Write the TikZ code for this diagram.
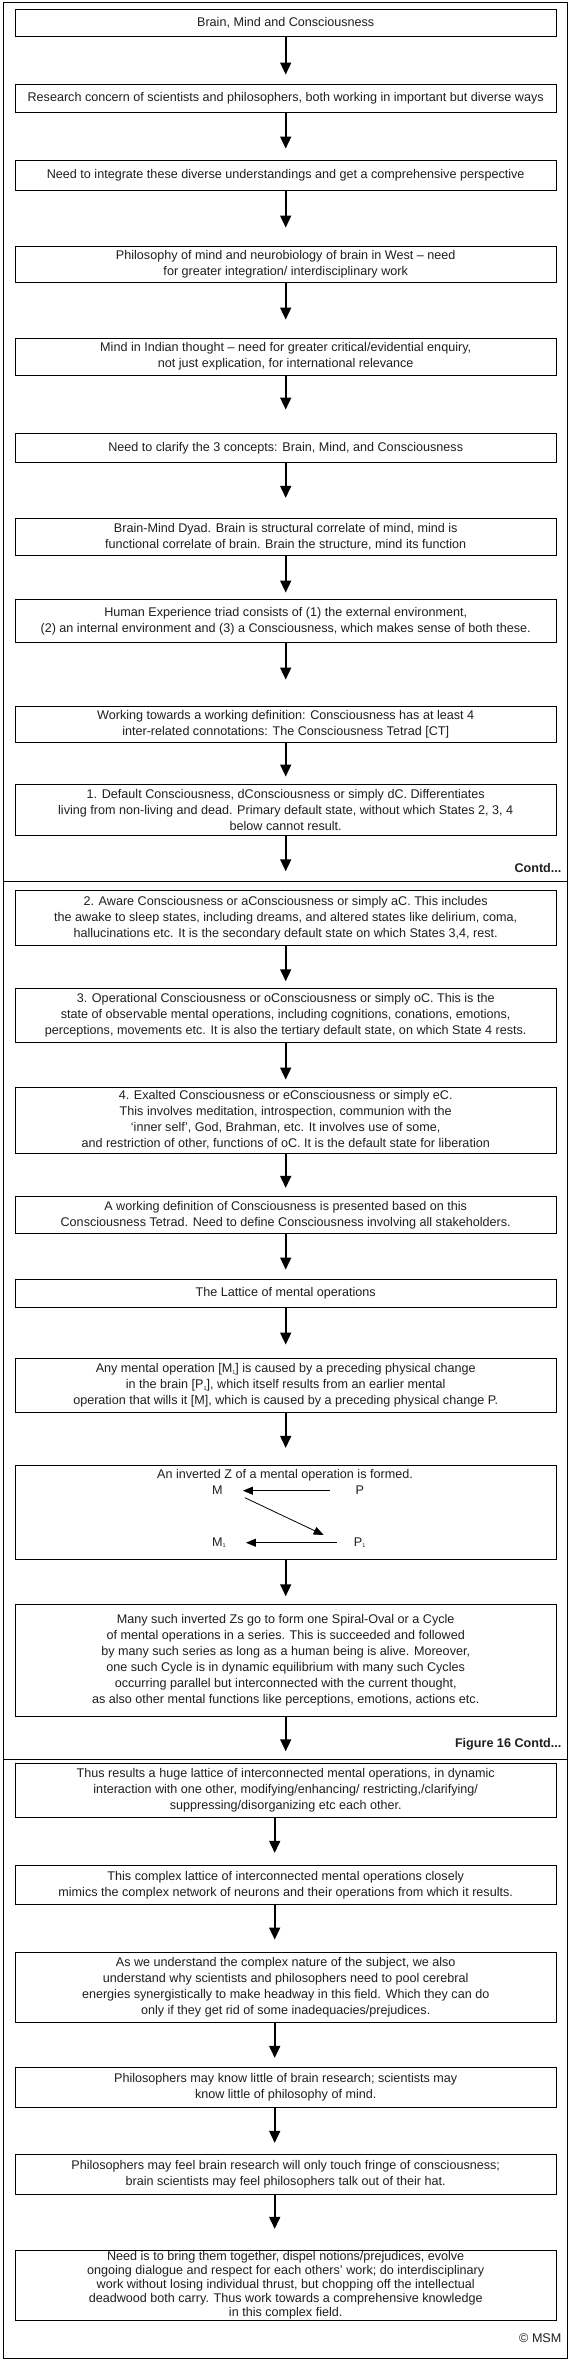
\documentclass[tikz,border=0pt]{standalone}
\usepackage{fontspec}
\setmainfont{Liberation Sans}
\usetikzlibrary{arrows.meta,calc}
\newcommand\lowone{\raisebox{-1.5pt}{\fontsize{5.5}{6}\selectfont 1}}
\newcommand\myflow[3]{\draw[arr,shorten >=#3pt] (#1.south) -- (#2.north);}
\newcommand\myflowb[3]{\draw[arr,shorten >=#3pt] ([xshift=-11pt]#1.south) -- ([xshift=-11pt]#2.north);}
\begin{document}
\begin{tikzpicture}[x=1pt,y=-1pt,
  box/.style={draw=black, line width=0.9pt, minimum width=540.6pt, align=center, inner sep=0pt, font=\fontsize{12.6}{16}\selectfont, text=black!88},
  arr/.style={line width=1.6pt, -{Triangle[width=11pt,length=12pt]}},
  zarr/.style={line width=0.8pt, -{Triangle[width=8pt,length=10pt]}},
  frame/.style={draw=black, line width=1pt},
  note/.style={font=\fontsize{12.6}{14}\selectfont\bfseries, anchor=east, inner sep=0pt, text=black!88},
  zl/.style={font=\fontsize{12.6}{14}\selectfont, anchor=west, inner sep=0pt, text=black!88}
]
\path[use as bounding box] (0,0) rectangle (577,2363);
\fill[white] (0,0) rectangle (577,2363);
% frame
\draw[frame] (3,3) rectangle (567,2358);
\draw[frame] (3,881) -- (567,881);
\draw[frame] (3,1759.3) -- (567,1759.3);

% panel 1
\node[box, minimum height=26.7pt] (b1) at (285.7,22.65) {Brain, Mind and Consciousness};
\node[box, minimum height=28pt] (b2) at (285.7,98.3) {Research concern of scientists and philosophers, both working in important but diverse ways};
\node[box, minimum height=30.7pt] (b3) at (285.7,175.35) {Need to integrate these diverse understandings and get a comprehensive perspective};
\node[box, minimum height=36pt] (b4) at (285.7,264.7) {Philosophy of mind and neurobiology of brain in West -- need\\for greater integration/ interdisciplinary work};
\node[box, minimum height=36.7pt] (b5) at (285.7,356.65) {Mind in Indian thought -- need for greater critical/evidential enquiry,\\not just explication, for international relevance};
\node[box, minimum height=29.4pt] (b6) at (285.7,448) {Need to clarify the 3 concepts: Brain, Mind, and Consciousness};
\node[box, minimum height=36.7pt] (b7) at (285.7,536.65) {Brain-Mind Dyad. Brain is structural correlate of mind, mind is\\functional correlate of brain. Brain the structure, mind its function};
\node[box, minimum height=43.7pt] (b8) at (285.7,620.85) {Human Experience triad consists of (1) the external environment,\\(2) an internal environment and (3) a Consciousness, which makes sense of both these.};
\node[box, minimum height=36pt] (b9) at (285.7,724.7) {Working towards a working definition: Consciousness has at least 4\\inter-related connotations: The Consciousness Tetrad [CT]};
\node[box, minimum height=51pt] (b10) at (285.7,809.5) {1. Default Consciousness, dConsciousness or simply dC. Differentiates\\living from non-living and dead. Primary default state, without which States 2, 3, 4\\below cannot result.};
\node[note] (c1) at (561.6,868) {Contd...};

% panel 2
\node[box, minimum height=55.7pt] (b11) at (285.7,917.85) {2. Aware Consciousness or aConsciousness or simply aC. This includes\\the awake to sleep states, including dreams, and altered states like delirium, coma,\\hallucinations etc. It is the secondary default state on which States 3,4, rest.};
\node[box, minimum height=54.7pt] (b12) at (285.7,1015.35) {3. Operational Consciousness or oConsciousness or simply oC. This is the\\state of observable mental operations, including cognitions, conations, emotions,\\perceptions, movements etc. It is also the tertiary default state, on which State 4 rests.};
\node[box, minimum height=65.7pt] (b13) at (285.7,1120.15) {4. Exalted Consciousness or eConsciousness or simply eC.\\This involves meditation, introspection, communion with the\\‘inner self’, God, Brahman, etc. It involves use of some,\\and restriction of other, functions of oC. It is the default state for liberation};
\node[box, minimum height=36.6pt] (b14) at (285.7,1215) {A working definition of Consciousness is presented based on this\\Consciousness Tetrad. Need to define Consciousness involving all stakeholders.};
\node[box, minimum height=28pt] (b15) at (285.7,1293.3) {The Lattice of mental operations};
\node[box, minimum height=54.4pt] (b16) at (285.7,1385.5) {Any mental operation [M\lowone] is caused by a preceding physical change\\in the brain [P\lowone], which itself results from an earlier mental\\operation that wills it [M], which is caused by a preceding physical change P.};
\node[box, minimum height=93.3pt] (b17) at (285.7,1512.35) {};
\node[zl, anchor=center] (zt) at (285,1475) {An inverted Z of a mental operation is formed.};
\node[zl] (M) at (212,1490) {M};
\node[zl] (P) at (355.5,1490) {P};
\node[zl] (M1) at (212,1542.7) {M\lowone};
\node[zl] (P1) at (353.7,1542.7) {P\lowone};
\draw[zarr] ($(P.west)+(-25.5,0.7)$) -- ($(M.east)+(20,0.7)$);
\draw[zarr] ($(M.east)+(22,7.7)$) -- ($(P1.west)+(-30,-7.7)$);
\draw[zarr] ($(P1.west)+(-17,0)$) -- ($(M1.east)+(20,0)$);
\node[box, minimum height=112pt] (b18) at (285.7,1660) {Many such inverted Zs go to form one Spiral-Oval or a Cycle\\of mental operations in a series. This is succeeded and followed\\by many such series as long as a human being is alive. Moreover,\\one such Cycle is in dynamic equilibrium with many such Cycles\\occurring parallel but interconnected with the current thought,\\as also other mental functions like perceptions, emotions, actions etc.};
\node[note] (c2) at (561.6,1744) {Figure 16 Contd...};

% panel 3
\node[box, minimum height=54pt] (b19) at (285.7,1790.3) {Thus results a huge lattice of interconnected mental operations, in dynamic\\interaction with one other, modifying/enhancing/ restricting,/clarifying/\\suppressing/disorganizing etc each other.};
\node[box, minimum height=38.6pt] (b20) at (285.7,1885) {This complex lattice of interconnected mental operations closely\\mimics the complex network of neurons and their operations from which it results.};
\node[box, minimum height=70pt] (b21) at (285.7,1987.7) {As we understand the complex nature of the subject, we also\\understand why scientists and philosophers need to pool cerebral\\energies synergistically to make headway in this field. Which they can do\\only if they get rid of some inadequacies/prejudices.};
\node[box, minimum height=39.6pt] (b22) at (285.7,2087.5) {Philosophers may know little of brain research; scientists may\\know little of philosophy of mind.};
\node[box, minimum height=40.3pt] (b23) at (285.7,2174.15) {Philosophers may feel brain research will only touch fringe of consciousness;\\brain scientists may feel philosophers talk out of their hat.};
\node[box, minimum height=70.7pt, font=\fontsize{12.6}{14}\selectfont] (b24) at (285.7,2285.35) {Need is to bring them together, dispel notions/prejudices, evolve\\ongoing dialogue and respect for each others’ work; do interdisciplinary\\work without losing individual thrust, but chopping off the intellectual\\deadwood both carry. Thus work towards a comprehensive knowledge\\in this complex field.};
\node[note, font=\fontsize{12.6}{14}\selectfont] (cr) at (561.6,2338) {© MSM};

% arrows
\myflow{b1}{b2}{9.3}
\myflow{b2}{b3}{11}
\myflow{b3}{b4}{18.7}
\myflow{b4}{b5}{18.3}
\myflow{b5}{b6}{23.3}
\myflow{b6}{b7}{20}
\myflow{b7}{b8}{6}
\myflow{b8}{b9}{26.7}
\myflow{b9}{b10}{7}
\myflow{b10}{b11}{18.3}
\myflow{b11}{b12}{6.3}
\myflow{b12}{b13}{7.3}
\myflow{b13}{b14}{8.4}
\myflow{b14}{b15}{9.3}
\myflow{b15}{b16}{13.3}
\myflow{b16}{b17}{17.4}
\myflow{b17}{b18}{7.3}
\myflow{b18}{b19}{11.6}
\myflowb{b19}{b20}{12.4}
\myflowb{b20}{b21}{12.7}
\myflowb{b21}{b22}{9.4}
\myflowb{b22}{b23}{10.7}
\myflowb{b23}{b24}{20.7}
\end{tikzpicture}
\end{document}
